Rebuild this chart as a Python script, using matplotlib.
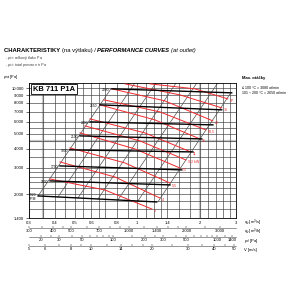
import matplotlib

matplotlib.use("Agg")
import matplotlib.pyplot as plt
from matplotlib.text import Annotation

plt.rcParams["font.family"] = ["Liberation Sans", "DejaVu Sans"]
plt.rcParams["mathtext.fontset"] = "custom"
plt.rcParams["mathtext.rm"] = "Liberation Sans"
plt.rcParams["mathtext.it"] = "Liberation Sans:italic"

# main axes scales
QV_TICKS = [0.3, 0.4, 0.5, 0.6, 0.8, 1, 1.4, 2, 3]
QV_LABELS = ["0.3", "0.4", "0.5", "0.6", "0.8", "1", "1.4", "2", "3"]
QV_GRID = [0.35, 0.45, 0.55, 0.65, 0.7, 0.9, 1.1, 1.2, 1.3, 1.6, 1.8, 2.2, 2.4, 2.6, 2.8]
P_TICKS = [1400, 2000, 3000, 4000, 5000, 6000, 7000, 8000, 9000, 10000]
P_LABELS = ["1.400", "2.000", "3.000", "4.000", "5.000", "6.000", "7.000", "8.000", "9.000", "10.000"]
P_GRID = [1600, 1800, 2200, 2400, 2600, 2800, 3500, 4500, 5500]

# fan speed curves (black)
RPM_LABELS = ["1320\nRPM", "1500", "1700", "1900", "2100", "2390", "2650", "2900"]
RPM_QV_START = [0.332, 0.379, 0.423, 0.473, 0.529, 0.592, 0.660, 0.754]
RPM_QV_END = [1.24, 1.44, 1.64, 1.86, 2.05, 2.32, 2.56, 2.86]
RPM_P_START = [1955, 2455, 3080, 3925, 4850, 5995, 7760, 9885]
RPM_P_END = [1785, 2310, 2900, 3805, 4635, 5730, 7195, 9305]

# system lines (grey diagonals)
DIAG_QV_LO = [0.332, 0.414, 0.517, 0.646, 0.806, 1.007, 1.257]
DIAG_P_LO = [1955, 1924, 1895, 1866, 1838, 1810, 1785]
DIAG_QV_HI = [0.746, 0.974, 1.23, 1.54, 1.94, 2.45, 2.83]
DIAG_P_HI = [9885, 10800, 10800, 10800, 10800, 10800, 9305]

# motor power lines (red)
KW_LABELS = ["37", "30", "22", "18,5", "15", "11", "9,2 kW", "7,5", "5,5", "4", "3"]
KW_QV = [
    [1.151, 1.897, 2.738],
    [0.872, 1.606, 2.561],
    [0.754, 1.359, 2.318],
    [0.690, 1.286, 2.144],
    [0.660, 1.217, 2.006],
    [0.591, 1.089, 1.815],
    [0.559, 1.030, 1.717],
    [0.529, 0.974, 1.606],
    [0.473, 0.872, 1.437],
    [0.423, 0.780, 1.286],
    [0.379, 0.698, 1.177],
]
KW_P = [
    [10662, 9885, 8495],
    [10662, 9026, 7411],
    [9885, 8242, 6088],
    [8368, 6979, 5311],
    [7757, 6181, 4634],
    [6274, 5075, 3806],
    [5643, 4496, 3371],
    [5075, 3983, 2987],
    [4043, 3221, 2379],
    [3271, 2605, 1896],
    [2528, 2139, 1604],
]

# extra scales under the chart
QH_TICKS = [300, 400, 500, 700, 1000, 1400, 2000, 3000]
QH_LABELS = ["300", "400", "500", "700", "1.000", "1.400", "2.000", "3.000"]
QH_MINOR = [350, 450, 600, 800, 900, 1200, 1600, 1800, 2500]
PD_TICKS = [20, 30, 50, 100, 200, 300, 500, 1000, 1400]
PD_LABELS = ["20", "30", "50", "100", "200", "300", "500", "1000", "1400"]
PD_MINOR = [25, 40, 60, 70, 80, 90, 150, 250, 400, 600, 700, 800, 900, 1200]
V_TICKS = [5, 6, 8, 10, 14, 20, 30, 40, 50]
V_LABELS = ["5", "6", "8", "10", "14", "20", "30", "40", "50"]
V_MINOR = [7, 9, 12, 16, 18, 25, 35, 45]

FS = 3.0
RED = "#f0282d"


def px(x, y):
    return x / 300, 1 - y / 300


fig = plt.figure(figsize=(3, 3), dpi=100)
ax = fig.add_axes([29 / 300, 1 - 218 / 300, 207 / 300, 135 / 300])
ax.set_xscale("log")
ax.set_yscale("log")
ax.set_xlim(0.3, 3)
ax.set_ylim(1400, 10800)
ax.set_xticks(QV_TICKS, QV_LABELS)
ax.set_xticks(QV_GRID, minor=True)
ax.set_yticks(P_TICKS, P_LABELS)
ax.set_yticks(P_GRID, minor=True)
ax.xaxis.set_minor_formatter(plt.NullFormatter())
ax.yaxis.set_minor_formatter(plt.NullFormatter())
ax.tick_params(axis="both", which="both", labelsize=FS, length=0, pad=2)
ax.tick_params(axis="y", which="major", length=2.5, width=0.4, pad=1)
ax.grid(which="both", color="#3a3a3a", linewidth=0.45)
for spine in ax.spines.values():
    spine.set_linewidth(0.6)
ax.axvline(0.35, color="#c8c8c8", linewidth=1.6, zorder=0.5)
ax.axvline(2, color="#c8c8c8", linewidth=1.6, zorder=0.5)
ax.axhline(4500, color="#c8c8c8", linewidth=1.6, zorder=0.5)

for i in range(len(DIAG_QV_LO)):
    ax.plot([DIAG_QV_LO[i], DIAG_QV_HI[i]], [DIAG_P_LO[i], DIAG_P_HI[i]],
            color="#505050", linewidth=0.5, zorder=2)

for i, label in enumerate(KW_LABELS):
    ax.plot(KW_QV[i], KW_P[i], color=RED, linewidth=0.7, zorder=3)
    ax.annotate(label, (KW_QV[i][-1], KW_P[i][-1]), xytext=(1.5, -1.5),
                textcoords="offset points", fontsize=2.6, color=RED, va="center")

for i, label in enumerate(RPM_LABELS):
    ax.plot([RPM_QV_START[i], RPM_QV_END[i]], [RPM_P_START[i], RPM_P_END[i]],
            color="black", linewidth=1.0, zorder=4)
    ax.annotate(label, (RPM_QV_START[i], RPM_P_START[i]), xytext=(-1.5, -0.8),
                textcoords="offset points", fontsize=2.4, ha="right", va="center",
                linespacing=0.9, zorder=5)

ax.text(0.018, 0.955, "KB 711 P1A", transform=ax.transAxes, fontsize=5.4,
        fontweight="bold", va="center", ha="left", zorder=6,
        bbox=dict(boxstyle="square,pad=0.25", facecolor="white", edgecolor="black", linewidth=0.6))

# extra scales
rows = [
    (228, (303.6, 3633), QH_TICKS, QH_LABELS, QH_MINOR, "$q_v$ [m$^3$/h]"),
    (237, (15.3, 1524), PD_TICKS, PD_LABELS, PD_MINOR, "$p_d$ [Pa]"),
    (246, (5, 51.2), V_TICKS, V_LABELS, V_MINOR, "V [m/s]"),
]
for y, lim, ticks, labels, minor, name in rows:
    sub = fig.add_axes([29 / 300, 1 - y / 300, 207 / 300, 0.0001])
    sub.set_xscale("log")
    sub.set_xlim(*lim)
    sub.set_xticks(ticks, labels)
    sub.set_xticks(minor, minor=True)
    sub.xaxis.set_minor_formatter(plt.NullFormatter())
    sub.set_yticks([])
    for side in ["top", "left", "right"]:
        sub.spines[side].set_visible(False)
    sub.spines["bottom"].set_linewidth(0.4)
    sub.spines["bottom"].set_color("#444444")
    sub.tick_params(axis="x", which="both", labelsize=FS, length=1.2, width=0.3, pad=0.8, direction="in")
    sub.patch.set_visible(False)
    fig.text(*px(244, y + 4), name, fontsize=FS, va="center")

fig.text(*px(244, 223), "$q_v$ [m$^3$/s]", fontsize=FS, va="center")

# title, chained piece by piece
title_parts = [
    ("(na výtlaku) / ", "normal", "normal"),
    ("PERFORMANCE CURVES ", "bold", "italic"),
    ("(at outlet)", "normal", "italic"),
]
t = fig.text(*px(4, 52), "CHARAKTERISTIKY ", fontsize=4.2, fontweight="bold", va="baseline")
for text, weight, style in title_parts:
    t = fig.add_artist(Annotation(text, xy=(1, 0), xycoords=t, fontsize=4.2, fontweight=weight,
                                  style=style, va="bottom", ha="left", annotation_clip=False))

fig.text(*px(5, 58), "- $p_{tot}$: celkový tlak v Pa", fontsize=2.6, va="center", color="#333333")
fig.text(*px(5, 65), "- $p_{tot}$: total pressure in Pa", fontsize=2.6, style="italic", va="center",
         color="#333333")
fig.text(*px(3, 77), "$p_{tot}$ [Pa]", fontsize=2.8, va="center")

fig.text(*px(242, 78), "Max. otáčky", fontsize=3.0, fontweight="bold", va="center")
fig.text(*px(242, 88), "≤ 100 °C = 3080 ot/min", fontsize=2.6, va="center")
fig.text(*px(242, 93), "101 ÷ 200 °C = 2650 ot/min", fontsize=2.6, va="center")

fig.savefig("out.png", dpi=100, facecolor="white")
